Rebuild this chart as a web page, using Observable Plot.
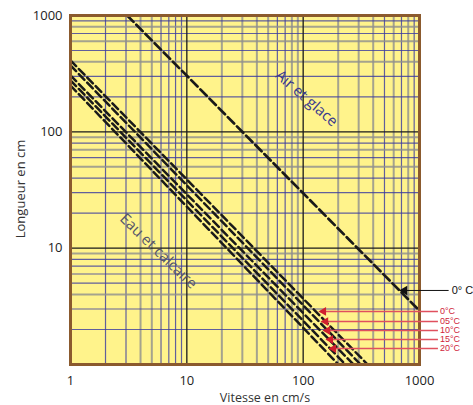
<!DOCTYPE html>
<html><head><meta charset="utf-8">
<script src="https://cdn.jsdelivr.net/npm/d3@7"></script>
<script src="https://cdn.jsdelivr.net/npm/@observablehq/plot@0.6"></script>
<style>body{margin:0;background:#fff}</style>
</head><body><div id="chart"></div>
<script>
// --- data ---
const xTicks = [1, 10, 100, 1000];
const yTicks = [10, 100, 1000];
const temps = ["0°C", "05°C", "10°C", "15°C", "20°C"];
const eauStartL = [411, 372, 305, 277, 250];   // length at v = 1 cm/s
const eauEndV = [358, 312, 271, 231, 201];     // speed at L = 1 cm
const airV = [3.07, 1000];
const airL = [1000, 2.9];
const arrowV = [141, 147, 153, 162, 172];
const arrowL = [2.86, 2.34, 1.96, 1.64, 1.37];
const air0V = 687, air0L = 4.33;

// build tables
const eauLines = temps.flatMap((t, i) => [
  {t, v: 1, L: eauStartL[i]},
  {t, v: eauEndV[i], L: 1}
]);
const airLine = airV.map((v, i) => ({v, L: airL[i]}));
const arrows = temps.map((t, i) => ({t, v: arrowV[i], L: arrowL[i]}));

// grid values
const decades = [1, 10, 100];
const minors = decades.flatMap(d => [2,3,4,5,6,7,8,9].map(k => ({val: k * d, k, d})));
const blueX = new Set([2,3,6,7,8,9,60,70,500,700,900]);
const blueY = new Set([2,3,5,6,7,8,20,30,40,60,80,200,300,500,700,900]);

const yellow = "#fff38b";
const chart = Plot.plot({
  width: 473, height: 405,
  marginLeft: 70, marginRight: 54, marginTop: 15, marginBottom: 41,
  x: {type: "log", domain: [1, 1000]},
  y: {type: "log", domain: [1, 1000]},
  style: {fontFamily: "Open Sans, sans-serif", fontSize: "13px", color: "#222", background: "#fff"},
  marks: [
    Plot.frame({fill: yellow, stroke: null}),
    Plot.ruleX(minors, {x: "val", stroke: d => blueX.has(d.val) ? "#3a3aa0" : "#8f8f8f", strokeWidth: d => blueX.has(d.val) ? 1.2 : 2, strokeOpacity: 0.8}),
    Plot.ruleY(minors, {y: "val", stroke: d => blueY.has(d.val) ? "#3a3aa0" : "#8f8f8f", strokeWidth: d => blueY.has(d.val) ? 1.2 : 2, strokeOpacity: 0.8}),
    Plot.ruleX(xTicks, {stroke: "#1a1a1a", strokeWidth: 1.3}),
    Plot.ruleY(yTicks, {stroke: "#1a1a1a", strokeWidth: 1.3}),
    Plot.line(airLine, {x: "v", y: "L", stroke: "#1a1a1a", strokeWidth: 2.7, strokeDasharray: "9,4", clip: true}),
    Plot.line(eauLines, {x: "v", y: "L", z: "t", stroke: "#1a1a1a", strokeWidth: 2.5, strokeDasharray: "8,4", clip: true}),
    Plot.frame({stroke: "#8b5a2e", strokeWidth: 3}),
    // red temperature arrows
    Plot.link(arrows, {x1: "v", y1: "L", x2: 1440, y2: "L", stroke: "#e0505e", strokeWidth: 1.5}),
    Plot.dot(arrows, {x: "v", y: "L", symbol: "triangle2", rotate: -90, r: 4.2, fill: "#d0202e", dx: 3}),
    Plot.text(arrows, {x: 1440, y: "L", text: "t", textAnchor: "start", dx: 2, fill: "#d0243a", fontSize: 9, fontFamily: "Liberation Sans Narrow, Liberation Sans, sans-serif"}),
    // 0°C air arrow
    Plot.link([0], {x1: air0V, y1: air0L, x2: 1780, y2: air0L, stroke: "#111", strokeWidth: 1}),
    Plot.dot([0], {x: air0V, y: air0L, symbol: "triangle2", rotate: -90, r: 4.5, fill: "#111", dx: 4}),
    Plot.text(["0° C"], {x: 1780, y: air0L, textAnchor: "start", dx: 3, fontSize: 11, fill: "#111", fontFamily: "Liberation Sans Narrow, Liberation Sans, sans-serif"}),
    // in-plot labels
    Plot.text(["Air et glace"], {x: 107, y: 194, textAnchor: "middle", lineAnchor: "middle", rotate: 41, fill: "#3a3a8e", fontSize: 15}),
    Plot.text(["Eau et calcaire"], {x: 5.7, y: 9.4, textAnchor: "middle", lineAnchor: "middle", rotate: 44, fill: "#55556a", fontSize: 15}),
    // axes
    Plot.axisX({ticks: xTicks, tickFormat: d => String(d), tickSize: 0, tickPadding: 11, label: null, fontSize: 13}),
    Plot.axisY({ticks: yTicks, tickFormat: d => String(d), tickSize: 0, tickPadding: 8, label: null, fontSize: 13}),
    Plot.text(["Vitesse en cm/s"], {frameAnchor: "bottom", textAnchor: "middle", lineAnchor: "middle", dx: 20, dy: 33, fontSize: 12.5, fill: "#333"}),
    Plot.text(["Longueur en cm"], {frameAnchor: "left", textAnchor: "middle", lineAnchor: "middle", dx: -50, dy: -1, rotate: -90, fontSize: 13, fill: "#333"})
  ]
});
document.getElementById("chart").appendChild(chart);
</script>
</body></html>
